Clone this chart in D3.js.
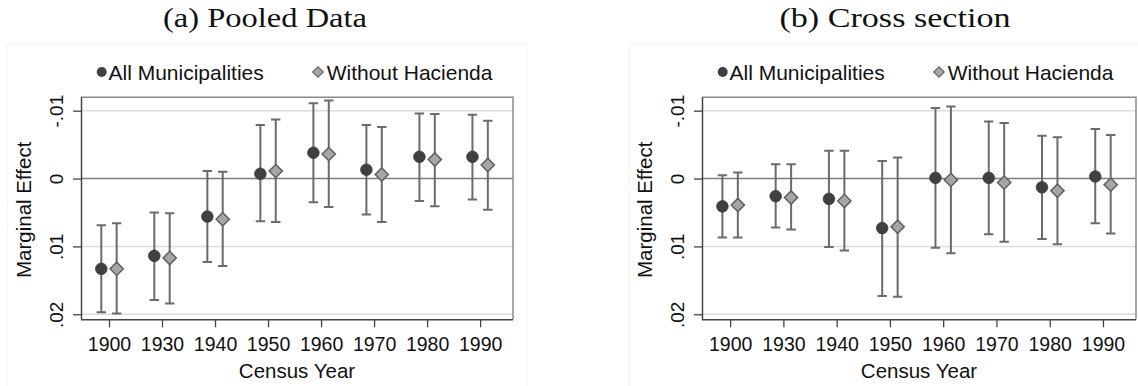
<!DOCTYPE html>
<html>
<head>
<meta charset="utf-8">
<script src="https://cdn.jsdelivr.net/npm/d3@7"></script>
<style>
  html, body { margin: 0; padding: 0; background: #fff; }
  svg { display: block; }
</style>
</head>
<body>
<svg id="chart" width="1138" height="386"></svg>
<script>
// Census years on the x axis
const years = ["1900", "1930", "1940", "1950", "1960", "1970", "1980", "1990"];

// Y ticks (axis runs downward: negative values on top)
const yTickValues = [-0.01, 0, 0.01, 0.02];
const yTickLabels = ["-.01", "0", ".01", ".02"];

// Panel (a): pooled data — point estimates and 95% bounds
const pooledAllEst   = [0.0133, 0.0114, 0.0056, -0.0007, -0.0038, -0.0013, -0.0032, -0.0032];
const pooledAllLo    = [0.0069, 0.0050, -0.0011, -0.0079, -0.0111, -0.0079, -0.0096, -0.0094];
const pooledAllHi    = [0.0197, 0.0179, 0.0123, 0.0063, 0.0035, 0.0053, 0.0033, 0.0031];
const pooledNoHacEst = [0.0133, 0.0117, 0.0060, -0.0011, -0.0036, -0.0006, -0.0028, -0.0020];
const pooledNoHacLo  = [0.0066, 0.0051, -0.0010, -0.0087, -0.0115, -0.0076, -0.0095, -0.0085];
const pooledNoHacHi  = [0.0199, 0.0184, 0.0129, 0.0064, 0.0042, 0.0064, 0.0041, 0.0046];

// Panel (b): cross section
const crossAllEst   = [0.0041, 0.0026, 0.0030, 0.0073, -0.0001, -0.0001, 0.0013, -0.0003];
const crossAllLo    = [-0.0005, -0.0021, -0.0041, -0.0026, -0.0104, -0.0084, -0.0063, -0.0073];
const crossAllHi    = [0.0087, 0.0072, 0.0101, 0.0173, 0.0102, 0.0082, 0.0089, 0.0066];
const crossNoHacEst = [0.0039, 0.0028, 0.0033, 0.0071, 0.0002, 0.0006, 0.0018, 0.0009];
const crossNoHacLo  = [-0.0009, -0.0021, -0.0041, -0.0031, -0.0106, -0.0082, -0.0061, -0.0064];
const crossNoHacHi  = [0.0087, 0.0075, 0.0106, 0.0174, 0.0110, 0.0093, 0.0097, 0.0081];

const seriesNames = ["All Municipalities", "Without Hacienda"];

const panels = [
  {
    title: "(a) Pooled Data", titleX: 265, regionX: 7, frameX: 81, frameW: 432,
    all: { est: pooledAllEst, lo: pooledAllLo, hi: pooledAllHi },
    noHac: { est: pooledNoHacEst, lo: pooledNoHacLo, hi: pooledNoHacHi }
  },
  {
    title: "(b) Cross section", titleX: 895, regionX: 629, frameX: 702, frameW: 434,
    all: { est: crossAllEst, lo: crossAllLo, hi: crossAllHi },
    noHac: { est: crossNoHacEst, lo: crossNoHacLo, hi: crossNoHacHi }
  }
];

const svg = d3.select("#chart");
const sans = "'Liberation Sans', Arial, sans-serif";
const serif = "'Liberation Serif', 'Times New Roman', serif";

const frameTop = 97.3, frameBottom = 319.3;
const circleColor = "#404040";
const diamondFill = "#a6a6a6";
const diamondStroke = "#606060";
const barColor = "#6b6b6b";

const diamond = d3.symbol().type(d3.symbolSquare).size(88);

panels.forEach(p => {
  const g = svg.append("g");

  // faint outer region outline
  g.append("rect")
    .attr("x", p.regionX + 0.5).attr("y", 43.5)
    .attr("width", 520).attr("height", 400)
    .attr("fill", "none").attr("stroke", "#f5f5f5");

  // title
  g.append("text")
    .attr("x", p.titleX).attr("y", 27)
    .attr("text-anchor", "middle")
    .attr("font-family", serif).attr("font-size", 28)
    .attr("textLength", p.title.length * 13.6).attr("lengthAdjust", "spacingAndGlyphs")
    .attr("fill", "#111")
    .text(p.title);

  const x = d3.scaleLinear().domain([0.472, 8.62]).range([p.frameX, p.frameX + p.frameW]);
  const y = d3.scaleLinear().domain([-0.01197, 0.02074]).range([frameTop, frameBottom]);

  // gridlines
  g.selectAll(".grid").data(yTickValues.filter(v => v !== 0)).join("line")
    .attr("x1", p.frameX).attr("x2", p.frameX + p.frameW)
    .attr("y1", d => y(d)).attr("y2", d => y(d))
    .attr("stroke", "#dcdcdc").attr("stroke-width", 1.5);

  // zero reference line
  g.append("line")
    .attr("x1", p.frameX).attr("x2", p.frameX + p.frameW)
    .attr("y1", y(0)).attr("y2", y(0))
    .attr("stroke", "#7c7c7c").attr("stroke-width", 1.5);

  // plot frame (top/right)
  g.append("path")
    .attr("d", `M${p.frameX},${frameTop}H${p.frameX + p.frameW}V${frameBottom}`)
    .attr("fill", "none").attr("stroke", "#8a8a8a").attr("stroke-width", 1.5);

  // y axis
  const yAxis = d3.axisLeft(y).tickValues(yTickValues)
    .tickFormat((d, i) => yTickLabels[i]).tickSize(8).tickSizeOuter(0);
  const ya = g.append("g").attr("transform", `translate(${p.frameX},0)`).call(yAxis);
  ya.select(".domain").attr("stroke", "#444").attr("stroke-width", 1.5)
    .attr("d", `M0.5,${frameTop}V${frameBottom}`);
  ya.selectAll(".tick line").attr("stroke", "#444").attr("stroke-width", 1.3);
  ya.selectAll(".tick text")
    .attr("x", null).attr("dy", null)
    .attr("text-anchor", "middle")
    .attr("transform", "translate(-18,0) rotate(-90)")
    .attr("font-family", sans).attr("font-size", 19).attr("fill", "#111");

  // x axis
  const xAxis = d3.axisBottom(x).tickValues(d3.range(1, years.length + 1))
    .tickFormat((d, i) => years[i]).tickSize(8).tickSizeOuter(0);
  const xa = g.append("g").attr("transform", `translate(0,${frameBottom})`).call(xAxis);
  xa.select(".domain").attr("stroke", "#444").attr("stroke-width", 1.5)
    .attr("d", `M${p.frameX},0.5H${p.frameX + p.frameW}`);
  xa.selectAll(".tick line").attr("stroke", "#444").attr("stroke-width", 1.3);
  xa.selectAll(".tick text")
    .attr("y", 32).attr("dy", null)
    .attr("font-family", sans).attr("font-size", 19.5).attr("fill", "#111");

  // axis titles
  g.append("text")
    .attr("transform", `translate(${p.frameX - 50},${(frameTop + frameBottom) / 2 + 1.5}) rotate(-90)`)
    .attr("text-anchor", "middle")
    .attr("font-family", sans).attr("font-size", 20.5).attr("fill", "#111")
    .text("Marginal Effect");
  g.append("text")
    .attr("x", p.frameX + p.frameW / 2).attr("y", 378)
    .attr("text-anchor", "middle")
    .attr("font-family", sans).attr("font-size", 20.5).attr("fill", "#111")
    .text("Census Year");

  // error bars + markers
  const drawSeries = (s, offset, kind) => {
    const gs = g.append("g");
    const idx = d3.range(years.length);
    const cx = i => x(i + 1 + offset);
    gs.selectAll(".bar").data(idx).join("path")
      .attr("d", i => `M${cx(i)},${y(s.lo[i])}V${y(s.hi[i])}M${cx(i) - 4.7},${y(s.lo[i])}H${cx(i) + 4.7}M${cx(i) - 4.7},${y(s.hi[i])}H${cx(i) + 4.7}`)
      .attr("fill", "none").attr("stroke", barColor).attr("stroke-width", 2);
    if (kind === "circle") {
      gs.selectAll(".pt").data(idx).join("circle")
        .attr("cx", cx).attr("cy", i => y(s.est[i])).attr("r", 5.8)
        .attr("fill", circleColor).attr("stroke", "#383838").attr("stroke-width", 0.8);
    } else {
      gs.selectAll(".pt").data(idx).join("path")
        .attr("d", diamond)
        .attr("transform", i => `translate(${cx(i)},${y(s.est[i])}) rotate(45)`)
        .attr("fill", diamondFill).attr("stroke", diamondStroke).attr("stroke-width", 1.5);
    }
  };
  drawSeries(p.all, -0.145, "circle");
  drawSeries(p.noHac, 0.145, "diamond");

  // legend
  const lx = p.frameX - 81;
  const lg = g.append("g").attr("font-family", sans).attr("font-size", 21).attr("fill", "#111");
  lg.append("circle").attr("cx", lx + 101.7).attr("cy", 72).attr("r", 5)
    .attr("fill", circleColor);
  lg.append("text").attr("x", lx + 108.5).attr("y", 79.5).text(seriesNames[0]);
  lg.append("path").attr("d", d3.symbol().type(d3.symbolSquare).size(55))
    .attr("transform", `translate(${lx + 318},72) rotate(45)`)
    .attr("fill", diamondFill).attr("stroke", diamondStroke).attr("stroke-width", 1.2);
  lg.append("text").attr("x", lx + 326.7).attr("y", 79.5).text(seriesNames[1]);
});
</script>
</body>
</html>
